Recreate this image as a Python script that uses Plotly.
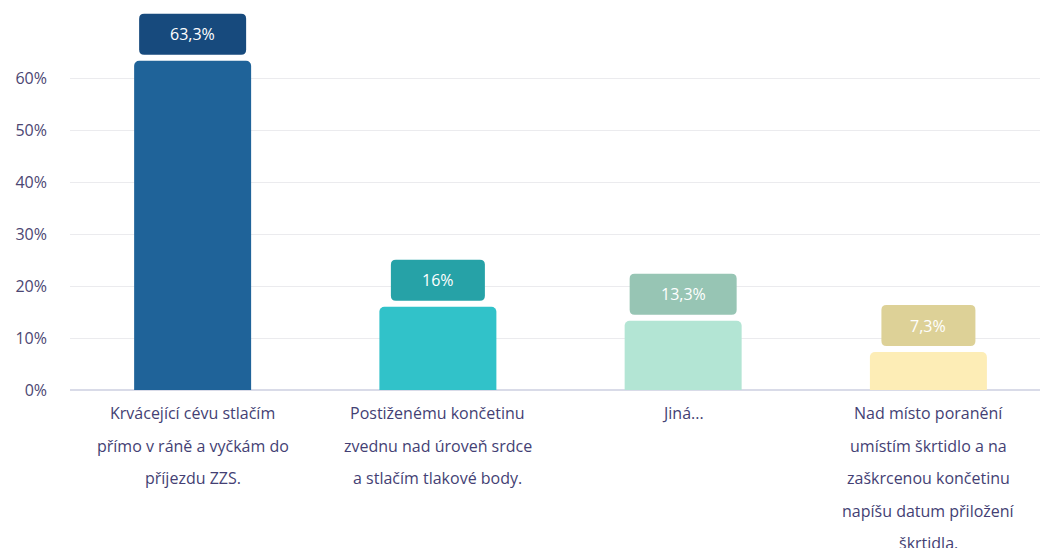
import plotly.graph_objects as go

# Survey answers (share of respondents, %)
answer_lines = [
    ["Krvácející cévu stlačím", "přímo v ráně a vyčkám do", "příjezdu ZZS."],
    ["Postiženému končetinu", "zvednu nad úroveň srdce", "a stlačím tlakové body."],
    ["Jiná..."],
    ["Nad místo poranění", "umístím škrtidlo a na", "zaškrcenou končetinu", "napíšu datum přiložení", "škrtidla."],
]
shares = [63.3, 16, 13.3, 7.3]
share_labels = ["63,3%", "16%", "13,3%", "7,3%"]
bar_colors = ["#1f6399", "#31c2c9", "#b3e5d4", "#fdedb6"]
badge_colors = ["#174a7d", "#26a2a7", "#97c5b4", "#ddd197"]
y_ticks = [0, 10, 20, 30, 40, 50, 60]
y_tick_labels = ["0%", "10%", "20%", "30%", "40%", "50%", "60%"]

FONT = "Open Sans"
positions = list(range(len(shares)))

fig = go.Figure(
    go.Bar(
        x=positions,
        y=shares,
        width=0.477,
        marker=dict(color=bar_colors, line=dict(width=0)),
        hoverinfo="skip",
    )
)

shapes = []
annotations = []
gap, box_h, r = 6, 41, 5
for i, (val, lab, col) in enumerate(zip(shares, share_labels, badge_colors)):
    w = max(94, 22 + 17 * len(lab))
    x0, x1 = -w / 2, w / 2
    y0, y1 = gap, gap + box_h
    path = (
        f"M{x0 + r},{y0} L{x1 - r},{y0} Q{x1},{y0} {x1},{y0 + r} "
        f"L{x1},{y1 - r} Q{x1},{y1} {x1 - r},{y1} L{x0 + r},{y1} "
        f"Q{x0},{y1} {x0},{y1 - r} L{x0},{y0 + r} Q{x0},{y0} {x0 + r},{y0} Z"
    )
    shapes.append(dict(
        type="path", xref="x", yref="y",
        xsizemode="pixel", ysizemode="pixel",
        xanchor=i, yanchor=val, path=path,
        fillcolor=col, line=dict(width=0), layer="above",
    ))
    annotations.append(dict(
        x=i, y=val, xref="x", yref="y", text=lab, showarrow=False,
        yanchor="middle", yshift=gap + box_h / 2,
        font=dict(family=FONT, size=16, color="#ffffff"),
    ))

# Multi-line category labels with generous line spacing
for i, lines in enumerate(answer_lines):
    for k, line in enumerate(lines):
        annotations.append(dict(
            x=i, y=0, xref="x", yref="paper", text=line, showarrow=False,
            yanchor="middle", yshift=-23 - 32.5 * k,
            font=dict(family=FONT, size=16, color="#443f74"),
        ))

fig.update_layout(
    width=1041, height=548,
    margin=dict(l=70, r=1, t=0, b=158),
    paper_bgcolor="#ffffff", plot_bgcolor="#ffffff",
    barcornerradius=5,
    showlegend=False,
    shapes=shapes,
    annotations=annotations,
    xaxis=dict(
        range=[-0.5, 3.455], showticklabels=False, showgrid=False,
        zeroline=False, showline=False, fixedrange=True,
    ),
    yaxis=dict(
        range=[0, 75], tickvals=y_ticks, ticktext=y_tick_labels,
        showgrid=True, gridcolor="#ebebee", gridwidth=1,
        zeroline=True, zerolinecolor="#d9dbe8", zerolinewidth=2,
        ticklabelstandoff=22,
        tickfont=dict(family=FONT, size=16, color="#4b4672"),
        fixedrange=True,
    ),
)

fig.write_html("out.html", config={"displayModeBar": False})
